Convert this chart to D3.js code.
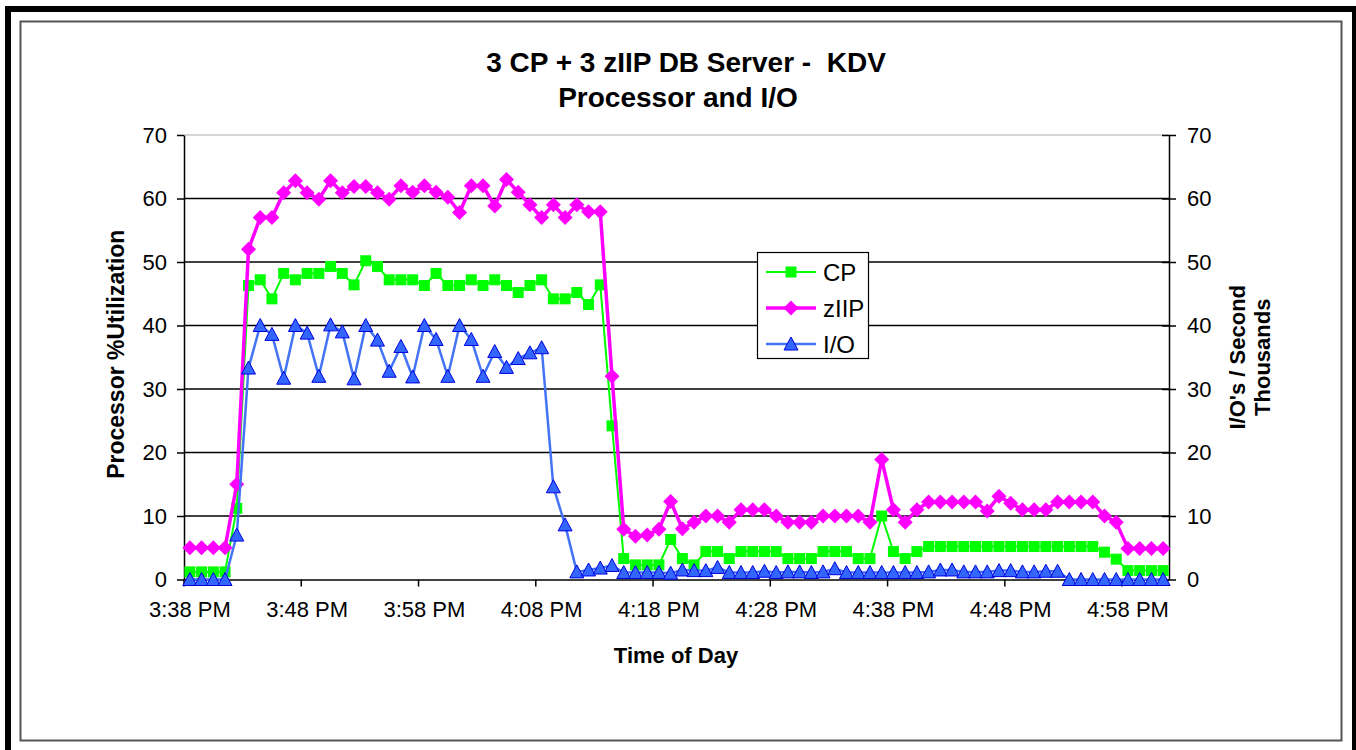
<!DOCTYPE html>
<html>
<head>
<meta charset="utf-8">
<script src="https://cdn.jsdelivr.net/npm/d3@7"></script>
<style>
  body { margin: 0; background: #fff; }
  text { font-family: "Liberation Sans", Arial, sans-serif; }
</style>
</head>
<body>
<div class="chart"></div>
<script>
// one point per minute, 3:38 PM .. 5:01 PM
const start = new Date(2008, 0, 1, 15, 38);
const times = d3.timeMinutes(start, d3.timeMinute.offset(start, 84)).map(d3.timeFormat("%-I:%M %p"));
const tickLabels = ["3:38 PM", "3:48 PM", "3:58 PM", "4:08 PM", "4:18 PM", "4:28 PM", "4:38 PM", "4:48 PM", "4:58 PM"];
const yTicks = [0, 10, 20, 30, 40, 50, 60, 70];

const cp = [1.2, 1.2, 1.2, 1.2, 11.2, 46.3, 47.2, 44.2, 48.2, 47.2,
  48.2, 48.2, 49.3, 48.2, 46.4, 50.2, 49.3, 47.2, 47.2, 47.2,
  46.3, 48.2, 46.3, 46.3, 47.2, 46.3, 47.2, 46.3, 45.2, 46.3,
  47.2, 44.2, 44.2, 45.2, 43.3, 46.4, 24.2, 3.3, 2.3, 2.3,
  2.3, 6.3, 3.3, 2.3, 4.4, 4.4, 3.3, 4.4, 4.4, 4.4,
  4.4, 3.3, 3.3, 3.3, 4.4, 4.4, 4.4, 3.3, 3.3, 10.0,
  4.4, 3.3, 4.4, 5.2, 5.2, 5.2, 5.2, 5.2, 5.2, 5.2,
  5.2, 5.2, 5.2, 5.2, 5.2, 5.2, 5.2, 5.2, 4.3, 3.2,
  1.4, 1.4, 1.4, 1.4];

const ziip = [5, 5, 5, 5, 15, 52, 57, 57, 60.9, 62.8,
  60.9, 59.9, 62.8, 60.9, 61.9, 61.9, 60.9, 59.9, 62, 61,
  62, 61, 60.2, 57.8, 62, 62, 58.8, 63, 61, 59,
  57, 59, 57, 59, 57.9, 57.9, 32, 7.9, 6.8, 7,
  7.9, 12.3, 8, 9, 10, 10, 9, 11, 11, 11,
  10, 9, 9, 9, 10, 10, 10, 10, 9, 18.9,
  11, 9, 11, 12.2, 12.2, 12.2, 12.2, 12.2, 10.8, 13.1,
  12, 11, 11, 11, 12.2, 12.2, 12.2, 12.2, 10, 9,
  4.9, 4.9, 4.9, 4.9];

// I/O's per second, thousands (right axis)
const io = [0, 0, 0, 0, 7, 33.3, 40, 38.6, 31.7, 40,
  38.8, 32, 40.1, 39, 31.6, 40, 37.7, 32.8, 36.7, 31.9,
  40, 37.8, 32, 40, 37.8, 32, 35.9, 33.4, 34.8, 35.7,
  36.5, 14.6, 8.6, 1.2, 1.5, 1.8, 2.2, 1.1, 1.1, 1.1,
  1.1, 1.0, 1.5, 1.4, 1.4, 1.9, 1.1, 1.1, 1.1, 1.3,
  1.1, 1.2, 1.2, 1.1, 1.2, 1.7, 1.1, 1.1, 1.1, 1.1,
  1.1, 1.1, 1.1, 1.2, 1.5, 1.5, 1.2, 1.2, 1.2, 1.4,
  1.4, 1.2, 1.2, 1.3, 1.3, 0, 0, 0, 0, 0,
  0, 0, 0, 0];

//Margin convention
const margin = {top: 135, left: 184, bottom: 170.5, right: 187};
const width = 1356 - margin.left - margin.right;
const height = 750 - margin.top - margin.bottom;

const root = d3.select('.chart').append('svg')
    .attr('width', 1356)
    .attr('height', 750);

// outer frame
root.append('rect')
    .attr('x', 8).attr('y', 9).attr('width', 1347).attr('height', 760)
    .attr('fill', 'none').attr('stroke', '#000').attr('stroke-width', 6);
root.append('rect')
    .attr('x', 20.5).attr('y', 21.5).attr('width', 1321).attr('height', 719)
    .attr('fill', 'none').attr('stroke', '#555').attr('stroke-width', 2);

const svg = root.append('g')
    .attr('transform', 'translate(' + margin.left + ',' + margin.top + ')');

//Scales
const xScale = d3.scaleBand().domain(times).range([0, width]);
const yLeft = d3.scaleLinear().domain([0, 70]).range([height, 0]);
const yRight = d3.scaleLinear().domain([0, 70]).range([height, 0]);
const cx = (d, i) => xScale(times[i]) + xScale.bandwidth() / 2;

// gridlines
svg.selectAll('.grid')
    .data(yTicks.filter(d => d > 0 && d < 70))
    .enter().append('line')
    .attr('x1', 0).attr('x2', width)
    .attr('y1', d => yLeft(d)).attr('y2', d => yLeft(d))
    .attr('stroke', '#000').attr('stroke-width', 1.5);
svg.append('line')
    .attr('x1', 0).attr('x2', width).attr('y1', 0).attr('y2', 0)
    .attr('stroke', '#c8c8c8').attr('stroke-width', 1.5);

//Axes
const leftAxis = svg.append('g')
    .call(d3.axisLeft(yLeft).tickValues(yTicks).tickSize(7).tickPadding(10).tickSizeOuter(0));
const rightAxis = svg.append('g')
    .attr('transform', `translate(${width},0)`)
    .call(d3.axisRight(yRight).tickValues(yTicks).tickSize(7).tickPadding(11).tickSizeOuter(0));
rightAxis.selectAll('.tick line').attr('x1', -7);
const bottomAxis = svg.append('g')
    .attr('transform', `translate(0,${height})`)
    .call(d3.axisBottom(xScale).tickValues(tickLabels).tickSize(0).tickPadding(22).tickSizeOuter(0));
// tick marks sit between categories
bottomAxis.selectAll('.tick line')
    .attr('x1', -xScale.bandwidth() / 2).attr('x2', -xScale.bandwidth() / 2)
    .attr('y2', 7);

[leftAxis, rightAxis, bottomAxis].forEach(a => {
    a.selectAll('path.domain').attr('stroke', '#000').attr('stroke-width', 1.5);
    a.selectAll('.tick line').attr('stroke', '#000').attr('stroke-width', 1.5);
    a.selectAll('text').attr('font-size', 22).attr('fill', '#000')
        .style('font-family', '"Liberation Sans", Arial, sans-serif');
});

//Markers
const squarePath = 'M-5.5,-5.5H5.5V5.5H-5.5Z';
const diamondPath = 'M0,-7.5L7.5,0L0,7.5L-7.5,0Z';
const trianglePath = 'M0,-7L7,6L-7,6Z';

const series = [
    {name: 'CP', values: cp, y: yLeft, color: '#00ff00', lw: 2, path: squarePath, fill: '#00ff00', stroke: 'none'},
    {name: 'zIIP', values: ziip, y: yLeft, color: '#ff00ff', lw: 3.5, path: diamondPath, fill: '#ff00ff', stroke: 'none'},
    {name: 'I/O', values: io, y: yRight, color: '#4473f5', lw: 2.5, path: trianglePath, fill: '#3366ff', stroke: '#0000dd'}
];

series.forEach(s => {
    const line = d3.line()
        .x(cx)
        .y(d => s.y(d));
    svg.append('path')
        .datum(s.values)
        .attr('fill', 'none')
        .attr('stroke', s.color)
        .attr('stroke-width', s.lw)
        .attr('stroke-linejoin', 'round')
        .attr('d', line);
    svg.append('g')
        .selectAll('path')
        .data(s.values)
        .enter().append('path')
        .attr('d', s.path)
        .attr('transform', (d, i) => `translate(${cx(d, i)},${s.y(d)})`)
        .attr('fill', s.fill)
        .attr('stroke', s.stroke)
        .attr('stroke-width', 1);
});

//Titles
root.append('text')
    .attr('x', 686).attr('y', 72)
    .attr('text-anchor', 'middle')
    .attr('font-size', 28).attr('font-weight', 'bold')
    .style('white-space', 'pre')
    .text('3 CP + 3 zIIP DB Server -  KDV');
root.append('text')
    .attr('x', 678).attr('y', 107)
    .attr('text-anchor', 'middle')
    .attr('font-size', 28).attr('font-weight', 'bold')
    .text('Processor and I/O');

root.append('text')
    .attr('x', 676).attr('y', 663)
    .attr('text-anchor', 'middle')
    .attr('font-size', 22).attr('font-weight', 'bold')
    .text('Time of Day');

root.append('text')
    .attr('transform', 'translate(124,' + (margin.top + height / 2 - 3) + ') rotate(-90)')
    .attr('text-anchor', 'middle')
    .attr('font-size', 23).attr('font-weight', 'bold')
    .text('Processor %Utilization');

root.append('text')
    .attr('transform', 'translate(1245,' + (margin.top + height / 2) + ') rotate(-90)')
    .attr('text-anchor', 'middle')
    .attr('font-size', 22).attr('font-weight', 'bold')
    .text("I/O's / Second");
root.append('text')
    .attr('transform', 'translate(1270,' + (margin.top + height / 2) + ') rotate(-90)')
    .attr('text-anchor', 'middle')
    .attr('font-size', 22).attr('font-weight', 'bold')
    .text('Thousands');

//legend
const legend = root.append('g').attr('transform', 'translate(757,252)');
legend.append('rect')
    .attr('x', 0.5).attr('y', 0.5).attr('width', 111).attr('height', 106)
    .attr('fill', '#fff').attr('stroke', '#000').attr('stroke-width', 1.2);
const item = legend.selectAll('.item')
    .data(series)
    .enter().append('g')
    .attr('transform', (d, i) => `translate(0,${20 + i * 36})`);
item.append('line')
    .attr('x1', 9).attr('x2', 59)
    .attr('stroke', d => d.color)
    .attr('stroke-width', d => d.lw);
item.append('path')
    .attr('d', d => d.path)
    .attr('transform', 'translate(34,0)')
    .attr('fill', d => d.fill)
    .attr('stroke', d => d.stroke);
item.append('text')
    .attr('x', 66).attr('y', 8.5)
    .attr('font-size', 24)
    .text(d => d.name);
</script>
</body>
</html>
